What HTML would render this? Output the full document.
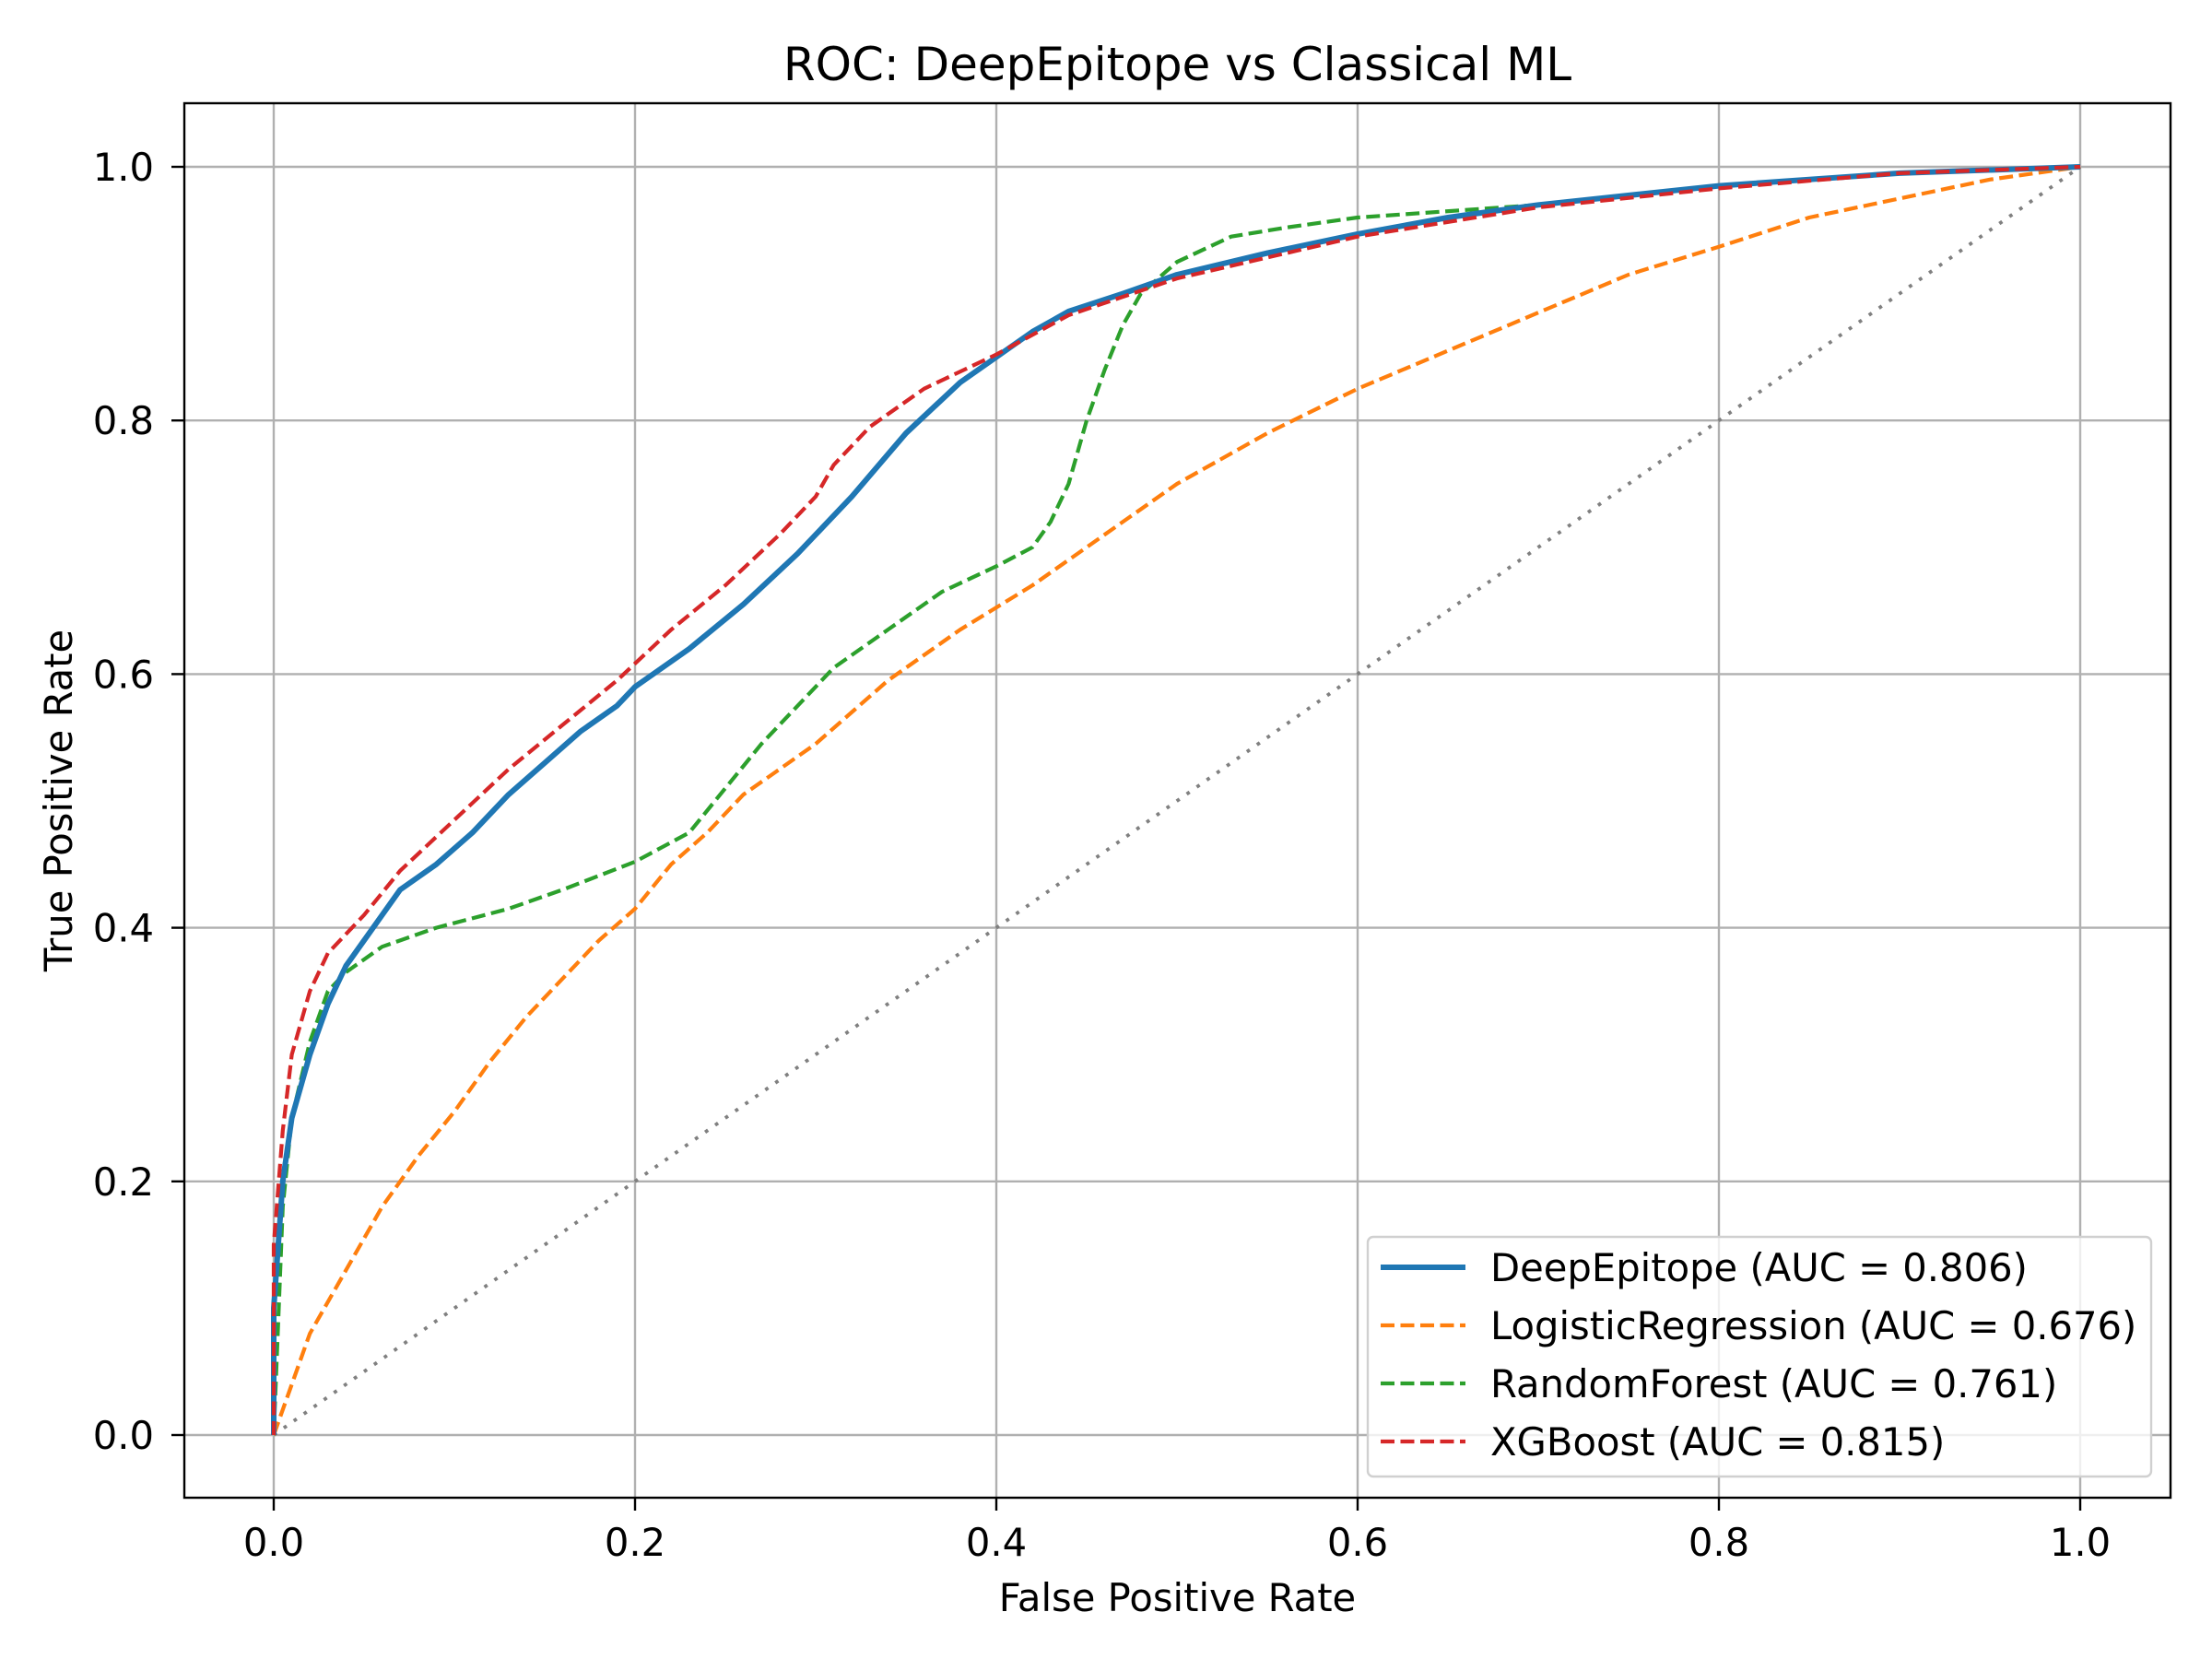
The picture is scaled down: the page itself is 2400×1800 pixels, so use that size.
<!DOCTYPE html>
<html><head><meta charset="utf-8"><style>
html,body{margin:0;padding:0;background:#fff;}
svg{display:block;font-family:"DejaVu Sans","Liberation Sans",sans-serif;}
</style></head><body>
<svg id="chart" width="2400" height="1800" viewBox="0 0 2400 1800" xmlns="http://www.w3.org/2000/svg">
<rect width="2400" height="1800" fill="#fff"/>
<g id="grid"></g>
<g id="series"></g>
<g id="axes"></g>
<g id="legend"></g>
</svg>
<script>
const xTicks = [0, 0.2, 0.4, 0.6, 0.8, 1.0];
const yTicks = [0, 0.2, 0.4, 0.6, 0.8, 1.0];
const tickLabels = ["0.0", "0.2", "0.4", "0.6", "0.8", "1.0"];
const seriesNames = ["DeepEpitope (AUC = 0.806)", "LogisticRegression (AUC = 0.676)", "RandomForest (AUC = 0.761)", "XGBoost (AUC = 0.815)"];
const deepFpr = [0,0,0.005,0.01,0.02,0.03,0.04,0.05,0.06,0.07,0.09,0.11,0.13,0.15,0.17,0.19,0.2,0.23,0.26,0.29,0.32,0.35,0.38,0.4,0.42,0.44,0.47,0.5,0.55,0.6,0.65,0.7,0.8,0.9,1];
const deepTpr = [0,0.1,0.2,0.25,0.3,0.34,0.37,0.39,0.41,0.43,0.45,0.475,0.505,0.53,0.555,0.575,0.59,0.62,0.655,0.695,0.74,0.79,0.83,0.85,0.87,0.886,0.9,0.915,0.932,0.947,0.96,0.97,0.985,0.995,1];
const lrFpr = [0,0.01,0.02,0.04,0.06,0.08,0.1,0.12,0.14,0.16,0.18,0.2,0.22,0.24,0.26,0.3,0.34,0.38,0.42,0.46,0.5,0.55,0.6,0.65,0.7,0.75,0.8,0.85,0.9,0.95,1];
const lrTpr = [0,0.04,0.08,0.13,0.18,0.22,0.255,0.295,0.33,0.36,0.39,0.415,0.45,0.475,0.505,0.545,0.595,0.635,0.67,0.71,0.75,0.79,0.825,0.855,0.885,0.915,0.937,0.96,0.975,0.99,1];
const rfFpr = [0,0.005,0.01,0.02,0.03,0.04,0.06,0.09,0.13,0.16,0.2,0.23,0.25,0.27,0.29,0.31,0.34,0.37,0.4,0.42,0.43,0.44,0.45,0.46,0.47,0.48,0.5,0.53,0.56,0.6,0.7,0.8,0.9,1];
const rfTpr = [0,0.18,0.25,0.31,0.35,0.365,0.385,0.4,0.415,0.43,0.452,0.475,0.51,0.545,0.575,0.605,0.635,0.665,0.685,0.7,0.72,0.75,0.8,0.84,0.875,0.9,0.925,0.945,0.952,0.96,0.97,0.985,0.995,1];
const xgbFpr = [0,0,0.005,0.01,0.02,0.03,0.05,0.07,0.1,0.13,0.16,0.19,0.22,0.25,0.28,0.3,0.31,0.33,0.36,0.4,0.44,0.5,0.6,0.7,0.8,0.9,1];
const xgbTpr = [0,0.15,0.24,0.3,0.35,0.38,0.41,0.445,0.485,0.525,0.56,0.595,0.635,0.67,0.71,0.74,0.765,0.795,0.825,0.852,0.883,0.912,0.945,0.968,0.983,0.995,1];

const NS = "http://www.w3.org/2000/svg";
const X0 = 297, X1 = 2257, Y0 = 1557, Y1 = 181;
const L = 200, R = 2355, T = 112, B = 1625;
function sx(v){ return X0 + v * (X1 - X0); }
function sy(v){ return Y0 - v * (Y0 - Y1); }
function mk(tag, attrs, parent){ const e = document.createElementNS(NS, tag); for (const k in attrs) e.setAttribute(k, attrs[k]); parent.appendChild(e); return e; }

const grid = document.getElementById('grid');
const axes = document.getElementById('axes');
const series = document.getElementById('series');
const legend = document.getElementById('legend');

xTicks.forEach((t, i) => {
  const g = mk('line', {x1: sx(t), x2: sx(t), y1: T, y2: B, stroke: '#b0b0b0', 'stroke-width': 2.4}, grid);
  
  
  const tk = mk('line', {x1: sx(t), x2: sx(t), y1: B, y2: B + 14, stroke: '#000', 'stroke-width': 2.4}, axes);
  
  
  const tx = mk('text', {x: sx(t), y: 1688, 'font-size': 41.7, 'text-anchor': 'middle', fill: '#000'}, axes);
  tx.textContent = tickLabels[i];
  
  
});
yTicks.forEach((t, i) => {
  const g = mk('line', {x1: L, x2: R, y1: sy(t), y2: sy(t), stroke: '#b0b0b0', 'stroke-width': 2.4}, grid);
  
  
  const tk = mk('line', {x1: L - 14, x2: L, y1: sy(t), y2: sy(t), stroke: '#000', 'stroke-width': 2.4}, axes);
  
  
  const tx = mk('text', {x: 167, y: sy(t) + 15, 'font-size': 41.7, 'text-anchor': 'end', fill: '#000'}, axes);
  tx.textContent = tickLabels[i];
  
  
});

const diag = mk('line', {x1: sx(0), y1: sy(0), x2: sx(1), y2: sy(1), stroke: '#808080', 'stroke-width': 3.8, 'stroke-dasharray': '3.8 9.5'}, series);



function pathD(xs, ys){ return xs.map((v, i) => (i ? 'L' : 'M') + sx(v).toFixed(1) + ',' + sy(ys[i]).toFixed(1)).join(''); }
const specs = [
  {xs: lrFpr, ys: lrTpr, c: '#ff7f0e', w: 4.2, d: '15 6.5', n: 'logistic-regression-curve'},
  {xs: rfFpr, ys: rfTpr, c: '#2ca02c', w: 4.2, d: '15 6.5', n: 'random-forest-curve'},
  {xs: deepFpr, ys: deepTpr, c: '#1f77b4', w: 6, d: null, n: 'deepepitope-curve'},
  {xs: xgbFpr, ys: xgbTpr, c: '#d62728', w: 4.2, d: '15 6.5', n: 'xgboost-curve'}
];
specs.forEach(s => {
  const a = {d: pathD(s.xs, s.ys), fill: 'none', stroke: s.c, 'stroke-width': s.w, 'stroke-linejoin': 'round'};
  if (s.d) a['stroke-dasharray'] = s.d;
  const p = mk('path', a, series);
  
  
});

const frame = mk('rect', {x: L, y: T, width: R - L, height: B - T, fill: 'none', stroke: '#000', 'stroke-width': 2.4}, axes);



const title = mk('text', {x: (L + R) / 2, y: 87, 'font-size': 50, 'text-anchor': 'middle', fill: '#000'}, axes);
title.textContent = 'ROC: DeepEpitope vs Classical ML';


const xl = mk('text', {x: (L + R) / 2, y: 1748, 'font-size': 41.7, 'text-anchor': 'middle', fill: '#000'}, axes);
xl.textContent = 'False Positive Rate';


const yl = mk('text', {x: 0, y: 0, 'font-size': 41.7, 'text-anchor': 'middle', fill: '#000', transform: 'translate(78,' + ((T + B) / 2) + ') rotate(-90)'}, axes);
yl.textContent = 'True Positive Rate';



const lb = mk('rect', {x: 1484, y: 1342, width: 850, height: 260, rx: 6, fill: '#fff', 'fill-opacity': 0.8, stroke: '#d0d0d0', 'stroke-width': 2.4}, legend);


const legOrder = [2, 0, 1, 3];
seriesNames.forEach((name, i) => {
  const s = specs[legOrder[i]];
  const y = 1375 + i * 63;
  const a = {x1: 1498, x2: 1590, y1: y, y2: y, stroke: s.c, 'stroke-width': s.w};
  if (s.d) a['stroke-dasharray'] = s.d;
  const ln = mk('line', a, legend);
  
  
  const t = mk('text', {x: 1617, y: y + 15, 'font-size': 41.7, fill: '#000'}, legend);
  t.textContent = name;
  
  
});
</script>
</body></html>
